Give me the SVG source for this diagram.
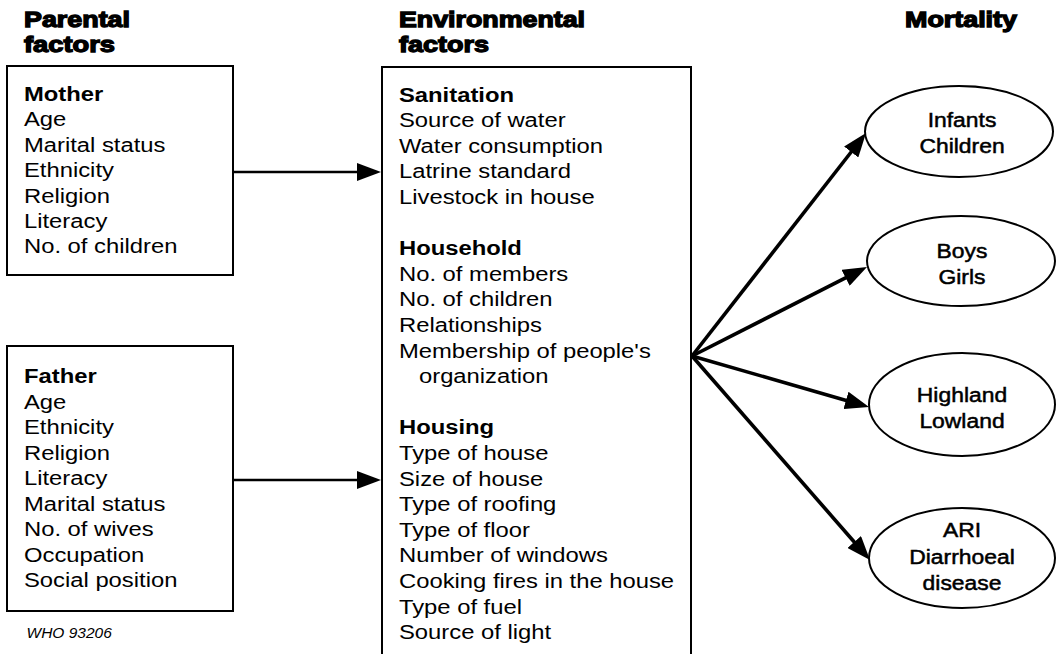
<svg xmlns="http://www.w3.org/2000/svg" width="1056" height="654" viewBox="0 0 1056 654">
<defs>
<style>
.box{fill:none;stroke:#000;stroke-width:2}
.hd{font-family:"Liberation Sans",Arial,sans-serif;font-weight:bold;font-size:22px;fill:#000;stroke:#000;stroke-width:1.3}
.t{font-family:"Liberation Sans",Arial,sans-serif;font-size:20px;fill:#000}
.b{font-weight:bold}
.e{font-family:"Liberation Sans",Arial,sans-serif;font-size:21px;fill:#000;stroke:#000;stroke-width:0.5;text-anchor:middle}
.w{font-family:"Liberation Sans",Arial,sans-serif;font-size:15.5px;font-style:italic;fill:#000}
.c{stroke:#000;fill:none}
</style>
<marker id="ah" markerUnits="userSpaceOnUse" markerWidth="24" markerHeight="18" refX="12" refY="9" orient="auto" viewBox="0 0 24 18">
<path d="M0,0 L24,9 L0,18 Z" fill="#000"/>
</marker>
</defs>
<rect width="1056" height="654" fill="#fff"/>

<g id="headers">
<text class="hd" x="24" y="26.7" textLength="106" lengthAdjust="spacingAndGlyphs">Parental</text>
<text class="hd" x="24" y="51.7" textLength="91" lengthAdjust="spacingAndGlyphs">factors</text>
<text class="hd" x="399" y="26.7" textLength="186" lengthAdjust="spacingAndGlyphs">Environmental</text>
<text class="hd" x="399" y="51.7" textLength="90" lengthAdjust="spacingAndGlyphs">factors</text>
<text class="hd" x="905" y="26.7" textLength="112" lengthAdjust="spacingAndGlyphs">Mortality</text>
</g>

<g id="mother">
<rect class="box" x="7" y="66" width="226" height="209"/>
<g transform="translate(24,0) scale(1.19,1)">
<text class="t b" x="0" y="101">Mother</text>
<text class="t" x="0" y="126.4">Age</text>
<text class="t" x="0" y="151.8">Marital status</text>
<text class="t" x="0" y="177.2">Ethnicity</text>
<text class="t" x="0" y="202.6">Religion</text>
<text class="t" x="0" y="228">Literacy</text>
<text class="t" x="0" y="253.4">No. of children</text>
</g>
</g>

<g id="father">
<rect class="box" x="7" y="346" width="226" height="265"/>
<g transform="translate(24,0) scale(1.19,1)">
<text class="t b" x="0" y="383.3">Father</text>
<text class="t" x="0" y="408.8">Age</text>
<text class="t" x="0" y="434.3">Ethnicity</text>
<text class="t" x="0" y="459.8">Religion</text>
<text class="t" x="0" y="485.3">Literacy</text>
<text class="t" x="0" y="510.8">Marital status</text>
<text class="t" x="0" y="536.3">No. of wives</text>
<text class="t" x="0" y="561.8">Occupation</text>
<text class="t" x="0" y="587.3">Social position</text>
</g>
</g>

<g id="who">
<text class="w" x="26.5" y="638.3">WHO 93206</text>
</g>

<g id="environment">
<rect class="box" x="382" y="67" width="309" height="600"/>
<g transform="translate(399,0) scale(1.19,1)">
<text class="t b" x="0" y="101.7">Sanitation</text>
<text class="t" x="0" y="127.3">Source of water</text>
<text class="t" x="0" y="152.9">Water consumption</text>
<text class="t" x="0" y="178.5">Latrine standard</text>
<text class="t" x="0" y="204.1">Livestock in house</text>
<text class="t b" x="0" y="255.3">Household</text>
<text class="t" x="0" y="280.9">No. of members</text>
<text class="t" x="0" y="306.5">No. of children</text>
<text class="t" x="0" y="332.1">Relationships</text>
<text class="t" x="0" y="357.7">Membership of people's</text>
<text class="t" x="16.8" y="383.3">organization</text>
<text class="t b" x="0" y="434.5">Housing</text>
<text class="t" x="0" y="460.1">Type of house</text>
<text class="t" x="0" y="485.7">Size of house</text>
<text class="t" x="0" y="511.3">Type of roofing</text>
<text class="t" x="0" y="536.9">Type of floor</text>
<text class="t" x="0" y="562.5">Number of windows</text>
<text class="t" x="0" y="588.1">Cooking fires in the house</text>
<text class="t" x="0" y="613.7">Type of fuel</text>
<text class="t" x="0" y="639.3">Source of light</text>
</g>
</g>

<g id="infants">
<ellipse class="box" cx="959" cy="131.5" rx="94" ry="45.5"/>
<g transform="translate(962,0) scale(1.09,1)">
<text class="e" x="0" y="127.3">Infants</text>
<text class="e" x="0" y="153.3">Children</text>
</g>
</g>

<g id="boys">
<ellipse class="box" cx="961" cy="261" rx="94" ry="45"/>
<g transform="translate(962,0) scale(1.09,1)">
<text class="e" x="0" y="258">Boys</text>
<text class="e" x="0" y="284">Girls</text>
</g>
</g>

<g id="highland">
<ellipse class="box" cx="962" cy="404.5" rx="93" ry="51.5"/>
<g transform="translate(962,0) scale(1.09,1)">
<text class="e" x="0" y="401.7">Highland</text>
<text class="e" x="0" y="428">Lowland</text>
</g>
</g>

<g id="ari">
<ellipse class="box" cx="962" cy="558" rx="93" ry="50"/>
<g transform="translate(962,0) scale(1.09,1)">
<text class="e" x="0" y="537">ARI</text>
<text class="e" x="0" y="564">Diarrhoeal</text>
<text class="e" x="0" y="590.5">disease</text>
</g>
</g>

<g id="connectors">
<line class="c" x1="233" y1="172" x2="369" y2="172" stroke-width="2.6" marker-end="url(#ah)"/>
<line class="c" x1="233" y1="480" x2="369" y2="480" stroke-width="2.6" marker-end="url(#ah)"/>
<line class="c" x1="692" y1="356" x2="858.6" y2="142.5" stroke-width="3.6" marker-end="url(#ah)"/>
<line class="c" x1="692" y1="356" x2="856.3" y2="272.4" stroke-width="3.6" marker-end="url(#ah)"/>
<line class="c" x1="692" y1="356" x2="857.5" y2="403.7" stroke-width="3.6" marker-end="url(#ah)"/>
<line class="c" x1="692" y1="356" x2="862.1" y2="551" stroke-width="3.6" marker-end="url(#ah)"/>
</g>
</svg>
